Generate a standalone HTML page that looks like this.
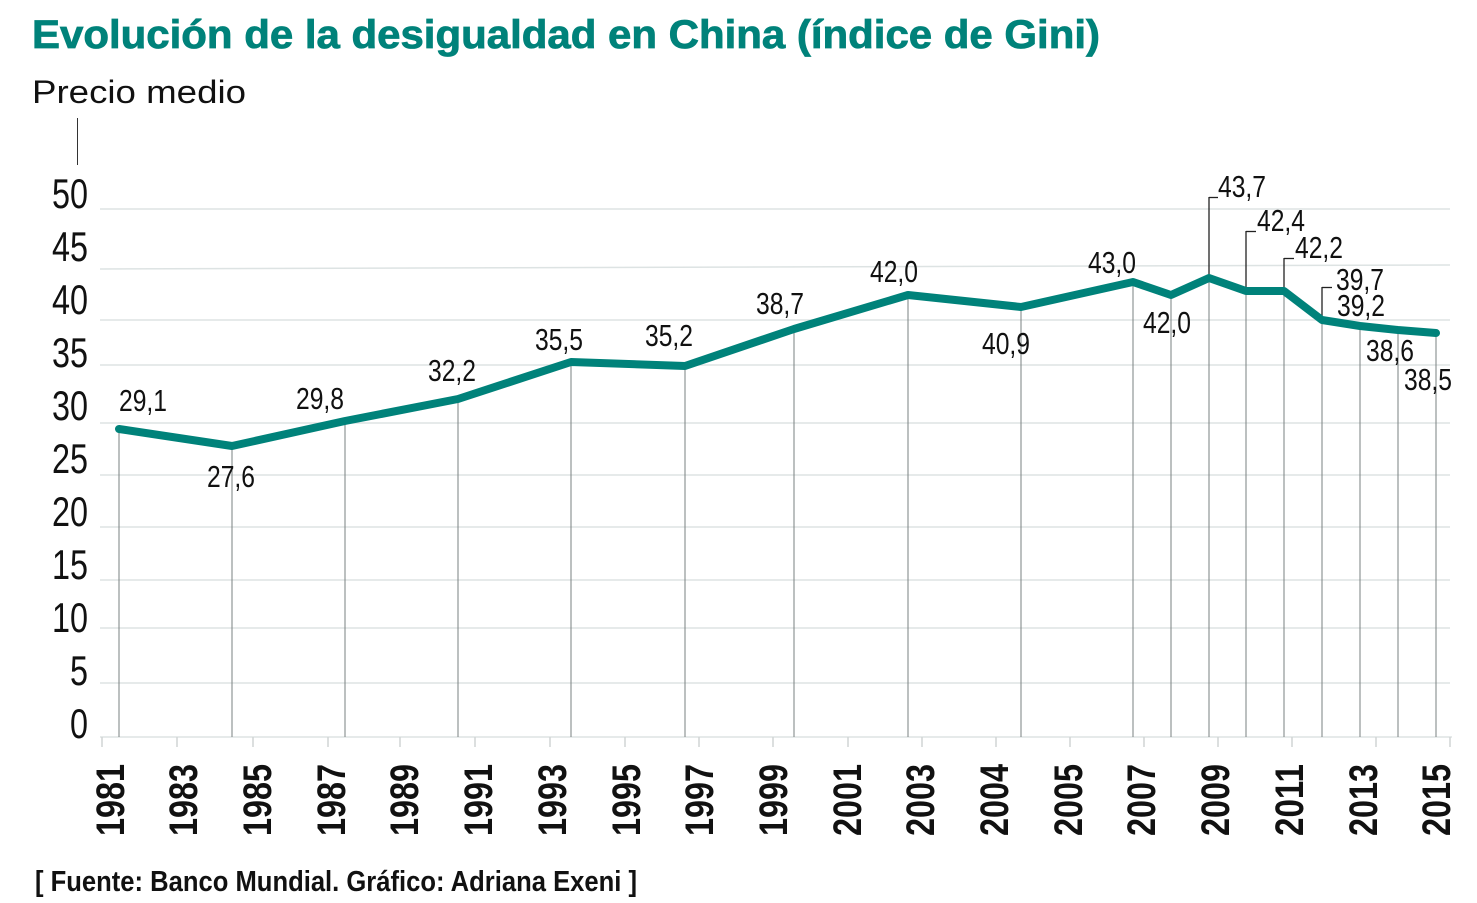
<!DOCTYPE html>
<html><head><meta charset="utf-8"><style>html,body{margin:0;padding:0;background:#fff}svg{display:block}</style></head><body>
<svg width="1477" height="903" viewBox="0 0 1477 903" xmlns="http://www.w3.org/2000/svg" font-family="'Liberation Sans Narrow','Liberation Sans',sans-serif">
<text x="32" y="48" font-family="'Liberation Sans',sans-serif" font-weight="bold" font-size="40" fill="#00827a" stroke="#00827a" stroke-width="0.8" textLength="1068" lengthAdjust="spacingAndGlyphs">Evolución de la desigualdad en China (índice de Gini)</text>
<text x="32" y="103" font-family="'Liberation Sans',sans-serif" font-size="32" fill="#111" textLength="214" lengthAdjust="spacingAndGlyphs">Precio medio</text>
<line x1="77.5" y1="118" x2="77.5" y2="165" stroke="#333" stroke-width="1"/>
<g stroke="#dde3e3" stroke-width="1.5">
<line x1="100" y1="209" x2="1450" y2="209"/><line x1="100" y1="269" x2="1450" y2="265"/><line x1="100" y1="320" x2="1450" y2="320"/><line x1="100" y1="365" x2="1450" y2="365"/><line x1="100" y1="423" x2="1450" y2="423"/><line x1="100" y1="475" x2="1450" y2="475"/><line x1="100" y1="527" x2="1450" y2="527"/><line x1="100" y1="580" x2="1450" y2="580"/><line x1="100" y1="628" x2="1450" y2="628"/><line x1="100" y1="683" x2="1450" y2="683"/><line x1="100" y1="737" x2="1452" y2="737"/>
</g>
<g stroke="#d0d4d4" stroke-width="1.5">
<line x1="102" y1="737" x2="102" y2="747"/><line x1="177" y1="737" x2="177" y2="747"/><line x1="253" y1="737" x2="253" y2="747"/><line x1="328" y1="737" x2="328" y2="747"/><line x1="400" y1="737" x2="400" y2="747"/><line x1="475" y1="737" x2="475" y2="747"/><line x1="550" y1="737" x2="550" y2="747"/><line x1="625" y1="737" x2="625" y2="747"/><line x1="699" y1="737" x2="699" y2="747"/><line x1="773" y1="737" x2="773" y2="747"/><line x1="848" y1="737" x2="848" y2="747"/><line x1="922" y1="737" x2="922" y2="747"/><line x1="996" y1="737" x2="996" y2="747"/><line x1="1070" y1="737" x2="1070" y2="747"/><line x1="1144" y1="737" x2="1144" y2="747"/><line x1="1218" y1="737" x2="1218" y2="747"/><line x1="1292" y1="737" x2="1292" y2="747"/><line x1="1376" y1="737" x2="1376" y2="747"/><line x1="1450" y1="737" x2="1450" y2="747"/>
</g>
<g stroke="#7a8080" stroke-width="1">
<line x1="119" y1="429" x2="119" y2="737"/><line x1="232" y1="446" x2="232" y2="737"/><line x1="345" y1="421" x2="345" y2="737"/><line x1="458" y1="399" x2="458" y2="737"/><line x1="571" y1="362" x2="571" y2="737"/><line x1="685" y1="366" x2="685" y2="737"/><line x1="794" y1="329" x2="794" y2="737"/><line x1="908" y1="295" x2="908" y2="737"/><line x1="1021" y1="307" x2="1021" y2="737"/><line x1="1133" y1="282" x2="1133" y2="737"/><line x1="1171" y1="295" x2="1171" y2="737"/><line x1="1209" y1="197" x2="1209" y2="737"/><line x1="1246" y1="231" x2="1246" y2="737"/><line x1="1284" y1="258" x2="1284" y2="737"/><line x1="1322" y1="287" x2="1322" y2="737"/><line x1="1360" y1="326" x2="1360" y2="737"/><line x1="1398" y1="330" x2="1398" y2="737"/><line x1="1436" y1="333" x2="1436" y2="737"/>
</g>
<g stroke="#222" stroke-width="1.3">
<line x1="1209" y1="197" x2="1209" y2="278"/><line x1="1246" y1="231" x2="1246" y2="291"/><line x1="1284" y1="258" x2="1284" y2="291"/><line x1="1322" y1="287" x2="1322" y2="320"/>
<line x1="1209" y1="197.5" x2="1218" y2="197.5"/><line x1="1246" y1="231.5" x2="1256" y2="231.5"/><line x1="1284" y1="258.5" x2="1294" y2="258.5"/><line x1="1322" y1="287.5" x2="1332" y2="287.5"/>
</g>
<polyline fill="none" stroke="#00827a" stroke-width="8" stroke-linejoin="round" stroke-linecap="round" points="119,429 232,446 345,421 458,399 571,362 685,366 794,329 908,295 1021,307 1133,282 1171,295 1209,278 1246,291 1284,291 1322,320 1360,326 1398,330 1436,333"/>
<g font-size="42" fill="#111" text-anchor="end">
<text x="88" y="208" textLength="36" lengthAdjust="spacingAndGlyphs">50</text><text x="88" y="261" textLength="36" lengthAdjust="spacingAndGlyphs">45</text><text x="88" y="314" textLength="36" lengthAdjust="spacingAndGlyphs">40</text><text x="88" y="367" textLength="36" lengthAdjust="spacingAndGlyphs">35</text><text x="88" y="420" textLength="36" lengthAdjust="spacingAndGlyphs">30</text><text x="88" y="473" textLength="36" lengthAdjust="spacingAndGlyphs">25</text><text x="88" y="526" textLength="36" lengthAdjust="spacingAndGlyphs">20</text><text x="88" y="579" textLength="36" lengthAdjust="spacingAndGlyphs">15</text><text x="88" y="632" textLength="36" lengthAdjust="spacingAndGlyphs">10</text><text x="88" y="685" textLength="18" lengthAdjust="spacingAndGlyphs">5</text><text x="88" y="738" textLength="18" lengthAdjust="spacingAndGlyphs">0</text>
</g>
<g font-size="31" fill="#111" text-anchor="middle" lengthAdjust="spacingAndGlyphs">
<text x="143" y="411" textLength="48" lengthAdjust="spacingAndGlyphs">29,1</text><text x="231" y="487" textLength="48" lengthAdjust="spacingAndGlyphs">27,6</text><text x="320" y="409" textLength="48" lengthAdjust="spacingAndGlyphs">29,8</text><text x="452" y="381" textLength="48" lengthAdjust="spacingAndGlyphs">32,2</text><text x="559" y="350" textLength="48" lengthAdjust="spacingAndGlyphs">35,5</text><text x="669" y="346" textLength="48" lengthAdjust="spacingAndGlyphs">35,2</text><text x="780" y="314" textLength="48" lengthAdjust="spacingAndGlyphs">38,7</text><text x="894" y="282" textLength="48" lengthAdjust="spacingAndGlyphs">42,0</text><text x="1006" y="354" textLength="48" lengthAdjust="spacingAndGlyphs">40,9</text><text x="1112" y="273" textLength="48" lengthAdjust="spacingAndGlyphs">43,0</text><text x="1167" y="333" textLength="48" lengthAdjust="spacingAndGlyphs">42,0</text><text x="1242" y="197" textLength="48" lengthAdjust="spacingAndGlyphs">43,7</text><text x="1281" y="231" textLength="48" lengthAdjust="spacingAndGlyphs">42,4</text><text x="1319" y="258" textLength="48" lengthAdjust="spacingAndGlyphs">42,2</text><text x="1360" y="290" textLength="48" lengthAdjust="spacingAndGlyphs">39,7</text><text x="1361" y="316" textLength="48" lengthAdjust="spacingAndGlyphs">39,2</text><text x="1390" y="361" textLength="48" lengthAdjust="spacingAndGlyphs">38,6</text><text x="1428" y="390" textLength="48" lengthAdjust="spacingAndGlyphs">38,5</text>
</g>
<g font-size="40" font-weight="bold" fill="#111" text-anchor="middle">
<text transform="translate(124,800) rotate(-90)" textLength="72" lengthAdjust="spacingAndGlyphs">1981</text>
<text transform="translate(197,800) rotate(-90)" textLength="72" lengthAdjust="spacingAndGlyphs">1983</text>
<text transform="translate(271,800) rotate(-90)" textLength="72" lengthAdjust="spacingAndGlyphs">1985</text>
<text transform="translate(345,800) rotate(-90)" textLength="72" lengthAdjust="spacingAndGlyphs">1987</text>
<text transform="translate(418,800) rotate(-90)" textLength="72" lengthAdjust="spacingAndGlyphs">1989</text>
<text transform="translate(492,800) rotate(-90)" textLength="72" lengthAdjust="spacingAndGlyphs">1991</text>
<text transform="translate(566,800) rotate(-90)" textLength="72" lengthAdjust="spacingAndGlyphs">1993</text>
<text transform="translate(640,800) rotate(-90)" textLength="72" lengthAdjust="spacingAndGlyphs">1995</text>
<text transform="translate(713,800) rotate(-90)" textLength="72" lengthAdjust="spacingAndGlyphs">1997</text>
<text transform="translate(787,800) rotate(-90)" textLength="72" lengthAdjust="spacingAndGlyphs">1999</text>
<text transform="translate(861,800) rotate(-90)" textLength="72" lengthAdjust="spacingAndGlyphs">2001</text>
<text transform="translate(934,800) rotate(-90)" textLength="72" lengthAdjust="spacingAndGlyphs">2003</text>
<text transform="translate(1008,800) rotate(-90)" textLength="72" lengthAdjust="spacingAndGlyphs">2004</text>
<text transform="translate(1082,800) rotate(-90)" textLength="72" lengthAdjust="spacingAndGlyphs">2005</text>
<text transform="translate(1155,800) rotate(-90)" textLength="72" lengthAdjust="spacingAndGlyphs">2007</text>
<text transform="translate(1229,800) rotate(-90)" textLength="72" lengthAdjust="spacingAndGlyphs">2009</text>
<text transform="translate(1303,800) rotate(-90)" textLength="72" lengthAdjust="spacingAndGlyphs">2011</text>
<text transform="translate(1377,800) rotate(-90)" textLength="72" lengthAdjust="spacingAndGlyphs">2013</text>
<text transform="translate(1450,800) rotate(-90)" textLength="72" lengthAdjust="spacingAndGlyphs">2015</text>
</g>
<text x="35" y="891" font-size="29" font-weight="bold" fill="#111" textLength="602" lengthAdjust="spacingAndGlyphs">[ Fuente: Banco Mundial. Gráfico: Adriana Exeni ]</text>
</svg>
</body></html>
